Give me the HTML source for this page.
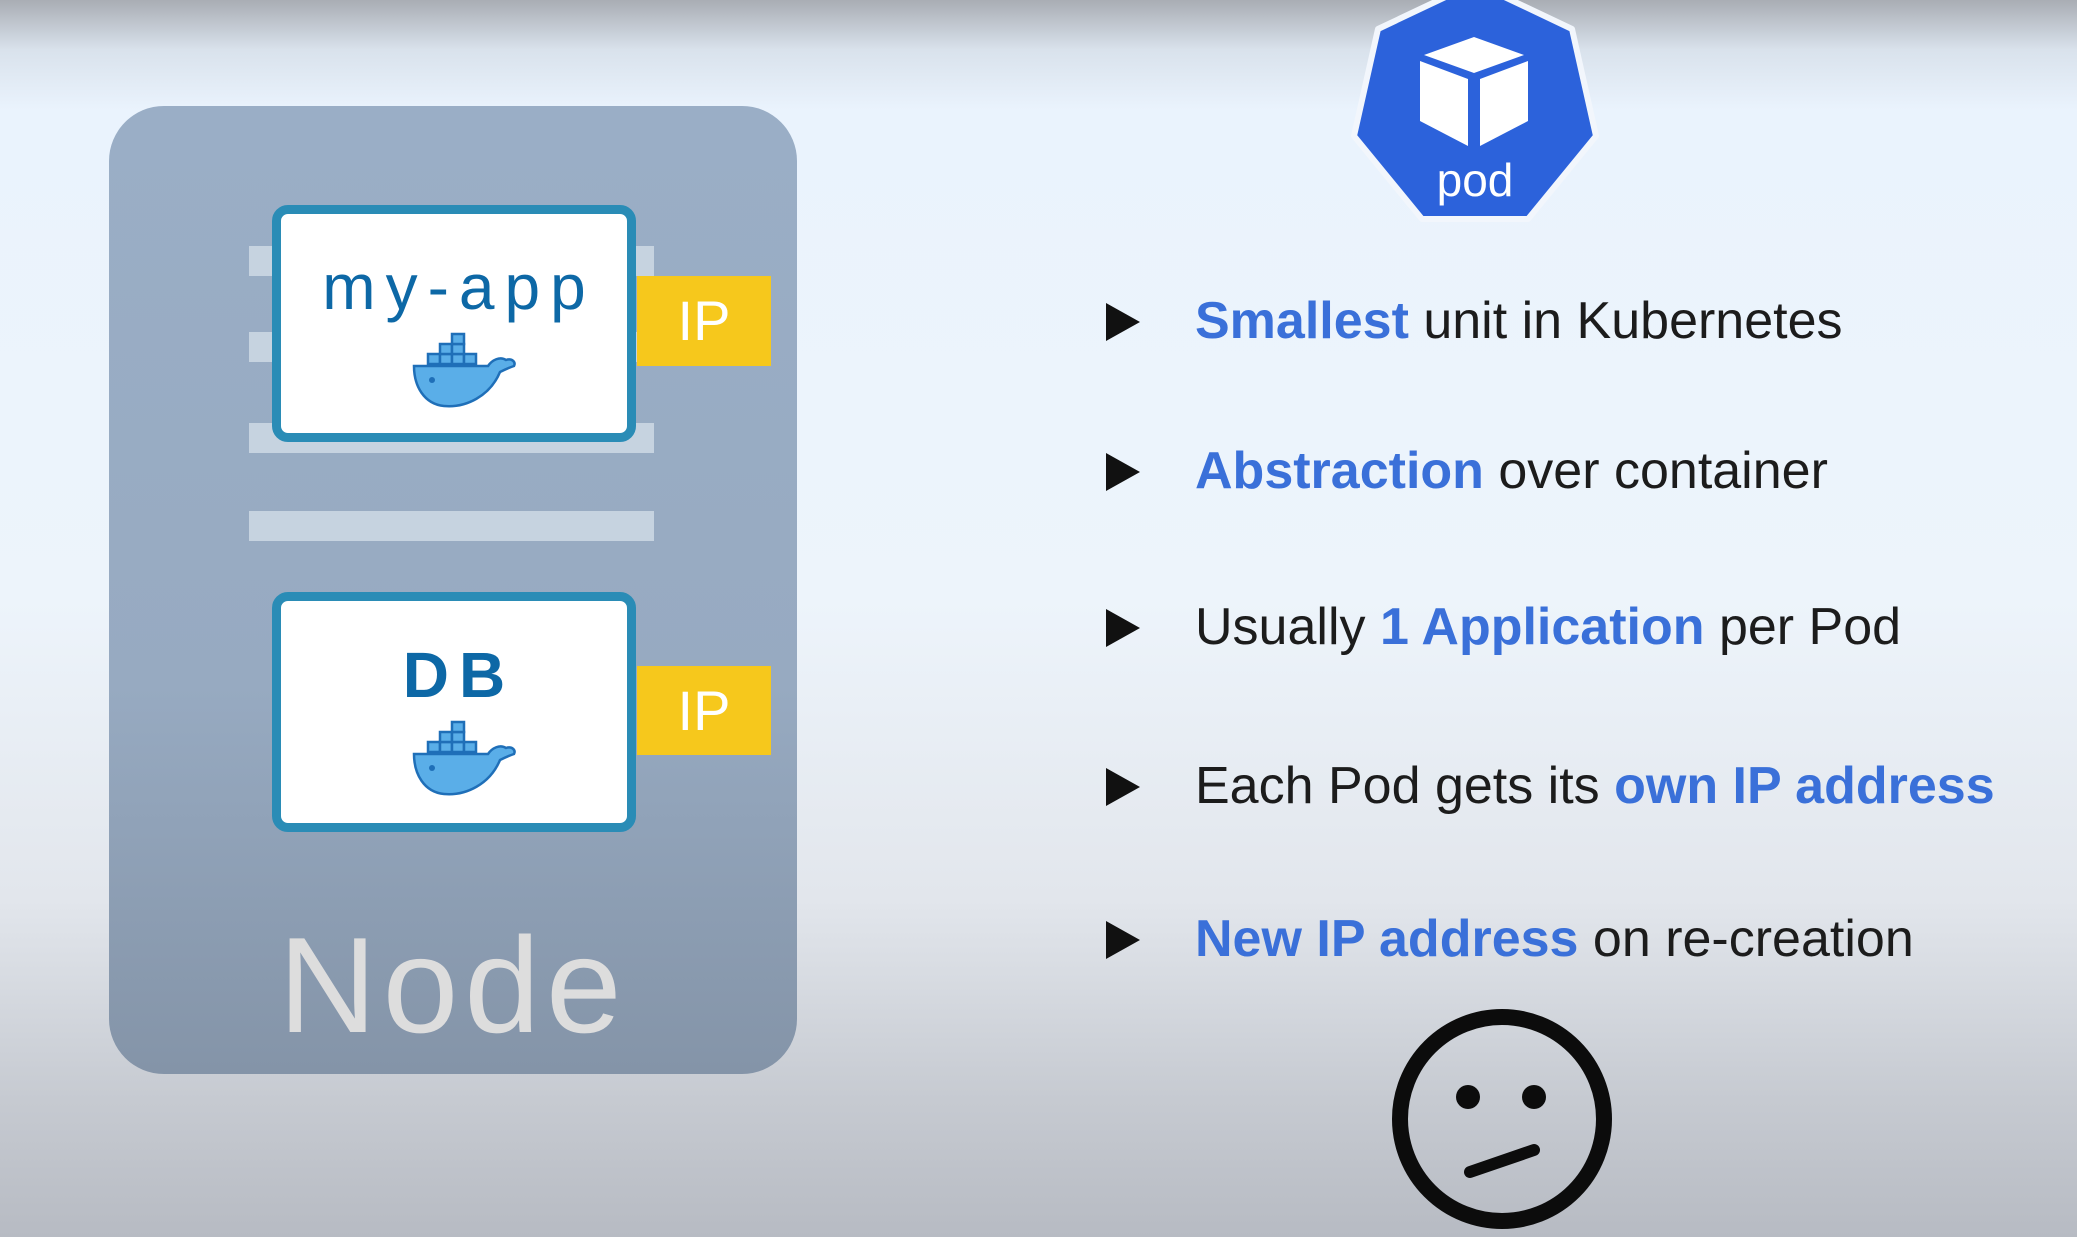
<!DOCTYPE html>
<html><head><meta charset="utf-8"><style>
html,body{margin:0;padding:0}
body{width:2077px;height:1237px;position:relative;overflow:hidden;font-family:"Liberation Sans",sans-serif;
background:linear-gradient(to bottom,#a9adb4 0px,#d9e2ec 50px,#eaf3fd 110px,#edf4fb 600px,#e2e6ec 900px,#c6cad1 1100px,#b7bbc3 1237px);}
.abs{position:absolute}
.node{left:109px;top:106px;width:688px;height:968px;border-radius:55px;background:linear-gradient(to bottom,#9aaec6 0%,#97aac1 60%,#8494a8 100%)}
.bar{background:#c6d3e0;height:30px}
.box{background:#fff;border:9px solid #2a8cb6;border-radius:16px;box-sizing:border-box}
.ip{background:#f6c81c;color:#fff;font-size:56px;text-align:center}
.lbl{color:#0d68a6;font-size:64px;text-align:center;letter-spacing:10px}
.b{font-size:52px;color:#1c1c1c;left:1195px;white-space:nowrap}
.b span{color:#3a70d9;font-weight:bold}
.tri{left:1106px;width:0;height:0;border-left:34px solid #111;border-top:19px solid transparent;border-bottom:19px solid transparent}
</style></head><body>
<div class="abs node"></div>
<div class="abs bar" style="left:249px;top:246px;width:405px"></div>
<div class="abs bar" style="left:249px;top:332px;width:405px"></div>
<div class="abs bar" style="left:249px;top:423px;width:405px"></div>
<div class="abs bar" style="left:249px;top:511px;width:405px"></div>
<div class="abs box" style="left:272px;top:205px;width:364px;height:237px"></div>
<div class="abs box" style="left:272px;top:592px;width:364px;height:240px"></div>
<div class="abs ip" style="left:637px;top:276px;width:134px;height:90px;line-height:90px">IP</div>
<div class="abs ip" style="left:637px;top:666px;width:134px;height:89px;line-height:89px">IP</div>
<div class="abs lbl" style="left:277px;top:250px;width:364px">my-app</div>
<div class="abs lbl" style="left:277px;top:638px;width:364px;font-weight:bold">DB</div>
<svg class="abs" style="left:410px;top:330px" width="110" height="85" viewBox="0 0 110 85">
<g fill="#5aaee8" stroke="#1f6fb8" stroke-width="2.5">
<rect x="18" y="24" width="12" height="10"/><rect x="30" y="24" width="12" height="10"/><rect x="42" y="24" width="12" height="10"/><rect x="54" y="24" width="12" height="10"/>
<rect x="30" y="14" width="12" height="10"/><rect x="42" y="14" width="12" height="10"/><rect x="42" y="4" width="12" height="10"/>
<path d="M4 36 H78 C82 30 90 26 96 30 C102 28 106 32 104 36 C98 38 94 40 90 42 C80 66 56 78 34 76 C14 74 4 56 4 36 Z"/>
</g><circle cx="22" cy="50" r="3" fill="#1f6fb8"/></svg>
<svg class="abs" style="left:410px;top:718px" width="110" height="85" viewBox="0 0 110 85">
<g fill="#5aaee8" stroke="#1f6fb8" stroke-width="2.5">
<rect x="18" y="24" width="12" height="10"/><rect x="30" y="24" width="12" height="10"/><rect x="42" y="24" width="12" height="10"/><rect x="54" y="24" width="12" height="10"/>
<rect x="30" y="14" width="12" height="10"/><rect x="42" y="14" width="12" height="10"/><rect x="42" y="4" width="12" height="10"/>
<path d="M4 36 H78 C82 30 90 26 96 30 C102 28 106 32 104 36 C98 38 94 40 90 42 C80 66 56 78 34 76 C14 74 4 56 4 36 Z"/>
</g><circle cx="22" cy="50" r="3" fill="#1f6fb8"/></svg>
<div class="abs" style="left:109px;top:910px;width:688px;text-align:center;font-size:136px;color:#dddddd;line-height:150px;letter-spacing:6px">Node</div>

<svg class="abs" style="left:1340px;top:-19px" width="270" height="265" viewBox="0 0 270 265">
<polygon points="135,2 232,48 256,155 188,238 82,238 14,155 38,48" fill="#2c62db" stroke="#f2f6fc" stroke-width="6" stroke-linejoin="round"/>
<polygon points="134,56 184,74 134,92 84,74" fill="#fff"/>
<polygon points="80,80 128,98 128,165 80,140" fill="#fff"/>
<polygon points="188,80 140,98 140,165 188,140" fill="#fff"/>
<text x="135" y="215" text-anchor="middle" fill="#fff" font-size="46" font-family="Liberation Sans,sans-serif">pod</text>
</svg>

<div class="abs tri" style="top:303px"></div>
<div class="abs b" style="top:291px"><span>Smallest</span> unit in Kubernetes</div>
<div class="abs tri" style="top:453px"></div>
<div class="abs b" style="top:441px"><span>Abstraction</span> over container</div>
<div class="abs tri" style="top:609px"></div>
<div class="abs b" style="top:597px">Usually <span>1 Application</span> per Pod</div>
<div class="abs tri" style="top:768px"></div>
<div class="abs b" style="top:756px">Each Pod gets its <span>own IP address</span></div>
<div class="abs tri" style="top:921px"></div>
<div class="abs b" style="top:909px"><span>New IP address</span> on re-creation</div>

<svg class="abs" style="left:1390px;top:1005px" width="230" height="232" viewBox="0 0 230 232">
<circle cx="112" cy="114" r="102" fill="none" stroke="#0c0c0c" stroke-width="16"/>
<circle cx="78" cy="92" r="12" fill="#0c0c0c"/><circle cx="144" cy="92" r="12" fill="#0c0c0c"/>
<line x1="80" y1="167" x2="144" y2="145" stroke="#0c0c0c" stroke-width="12" stroke-linecap="round"/>
</svg>
</body></html>
